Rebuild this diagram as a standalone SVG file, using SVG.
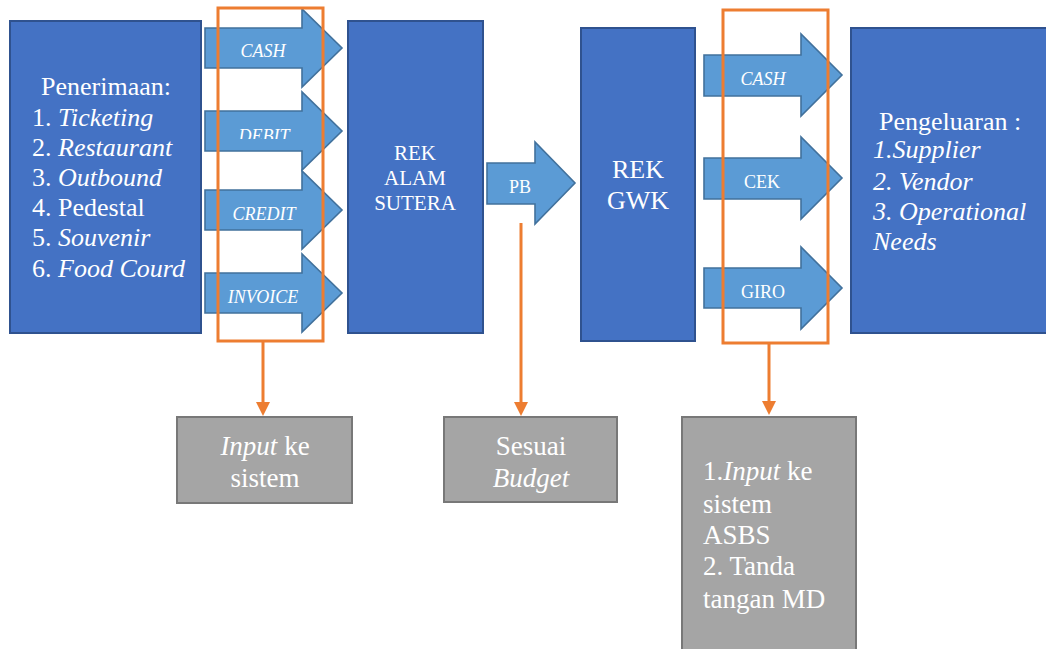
<svg xmlns="http://www.w3.org/2000/svg" width="1046" height="649" viewBox="0 0 1046 649">
<style>
.box{fill:#4472C4;stroke:#2F528F;stroke-width:2}
.arr{fill:#5B9BD5;stroke:#41719C;stroke-width:1.6}
.gray{fill:#A5A5A5;stroke:#787878;stroke-width:2}
.sel{fill:none;stroke:#ED7D31;stroke-width:3}
.con{fill:none;stroke:#ED7D31;stroke-width:3}
text{font-family:"Liberation Serif","Times New Roman",serif;fill:#FFFFFF}
.big{font-size:26px}
.mid{font-size:27px}
.sm{font-size:18px}
.m21{font-size:21px}
.c{text-anchor:middle}
.i{font-style:italic}
</style>
<defs>
<marker id="ah" viewBox="0 0 14 14" refX="0" refY="7" markerWidth="14" markerHeight="14" markerUnits="userSpaceOnUse" orient="auto">
<path d="M0,0 L14,7 L0,14 z" fill="#ED7D31"/>
</marker>
<clipPath id="debitClip"><rect x="205" y="100" width="140" height="39"/></clipPath>
</defs>

<g id="penerimaan">
<rect class="box" x="10" y="21" width="191" height="312"/>
<text class="big c" x="106" y="95">Penerimaan:</text>
<text class="big" x="32" y="126">1. <tspan class="i">Ticketing</tspan></text>
<text class="big" x="32" y="156">2. <tspan class="i">Restaurant</tspan></text>
<text class="big" x="32" y="186">3. <tspan class="i">Outbound</tspan></text>
<text class="big" x="32" y="216">4. Pedestal</text>
<text class="big" x="32" y="246">5. <tspan class="i">Souvenir</tspan></text>
<text class="big" x="32" y="277">6. <tspan class="i">Food Courd</tspan></text>
</g>

<g id="arrow-cash-in">
<path class="arr" d="M205,28 H302 V9 L342,48 L302,87 V68 H205 z"/>
<text class="sm i c" x="263" y="57">CASH</text>
</g>
<g id="arrow-debit">
<path class="arr" d="M205,111 H302 V92 L342,131 L302,170 V151 H205 z"/>
<text class="sm i c" x="264" y="142" clip-path="url(#debitClip)">DEBIT</text>
</g>
<g id="arrow-credit">
<path class="arr" d="M205,190 H302 V171 L342,210 L302,249 V230 H205 z"/>
<text class="sm i c" x="264" y="220">CREDIT</text>
</g>
<g id="arrow-invoice">
<path class="arr" d="M205,273 H302 V254 L342,293 L302,332 V313 H205 z"/>
<text class="sm i c" x="263" y="303">INVOICE</text>
</g>

<g id="rek-alam-sutera">
<rect class="box" x="348" y="21" width="135" height="312"/>
<text class="m21 c" x="415" y="160">REK</text>
<text class="m21 c" x="415" y="185">ALAM</text>
<text class="m21 c" x="415" y="210">SUTERA</text>
</g>

<g id="arrow-pb">
<path class="arr" d="M487,163 H535 V142 L575,183 L535,224 V204 H487 z"/>
<text class="sm c" x="520" y="193">PB</text>
</g>

<g id="rek-gwk">
<rect class="box" x="581" y="28" width="114" height="313"/>
<text class="big c" x="638" y="178">REK</text>
<text class="big c" x="638" y="209">GWK</text>
</g>

<g id="arrow-cash-out">
<path class="arr" d="M704,55 H801 V34 L842,75 L801,116 V96 H704 z"/>
<text class="sm i c" x="763" y="85">CASH</text>
</g>
<g id="arrow-cek">
<path class="arr" d="M704,158 H801 V137 L842,178 L801,219 V199 H704 z"/>
<text class="sm c" x="762" y="188">CEK</text>
</g>
<g id="arrow-giro">
<path class="arr" d="M704,268 H801 V247 L842,288 L801,329 V308 H704 z"/>
<text class="sm c" x="763" y="298">GIRO</text>
</g>

<g id="pengeluaran">
<rect class="box" x="851" y="28" width="205" height="305"/>
<text class="big" x="879" y="130">Pengeluaran :</text>
<text class="big i" x="873" y="158">1.Supplier</text>
<text class="big i" x="873" y="190">2. Vendor</text>
<text class="big i" x="873" y="220">3. Operational</text>
<text class="big i" x="873" y="250">Needs</text>
</g>

<g id="group-left">
<rect class="sel" x="218" y="8" width="105" height="333"/>
</g>
<g id="group-right">
<rect class="sel" x="723" y="10" width="105" height="333"/>
</g>

<g id="input-ke-sistem">
<rect class="gray" x="177" y="417" width="175" height="86"/>
<text class="mid c" x="265" y="455"><tspan class="i">Input</tspan> ke</text>
<text class="mid c" x="265" y="487">sistem</text>
</g>

<g id="sesuai-budget">
<rect class="gray" x="444" y="417" width="173" height="85"/>
<text class="mid c" x="531" y="455">Sesuai</text>
<text class="mid c i" x="531" y="487">Budget</text>
</g>

<g id="input-asbs">
<rect class="gray" x="682" y="417" width="174" height="250"/>
<text class="mid" x="703" y="480">1.<tspan class="i">Input</tspan> ke</text>
<text class="mid" x="703" y="513">sistem</text>
<text class="mid" x="703" y="544">ASBS</text>
<text class="mid" x="703" y="575">2. Tanda</text>
<text class="mid" x="703" y="608">tangan MD</text>
</g>

<g id="connectors">
<line class="con" x1="263" y1="342" x2="263" y2="402" marker-end="url(#ah)"/>
<line class="con" x1="521" y1="223" x2="521" y2="402" marker-end="url(#ah)"/>
<line class="con" x1="769" y1="343" x2="769" y2="401" marker-end="url(#ah)"/>
</g>
</svg>
